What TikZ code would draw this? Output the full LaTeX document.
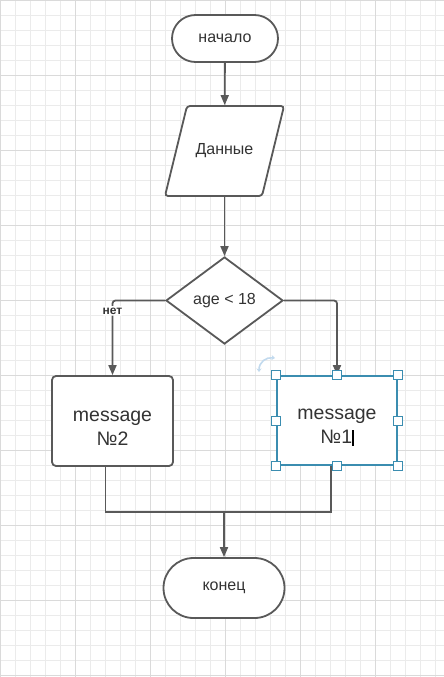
\documentclass[tikz,border=0pt]{standalone}
\usepackage{fontspec}
\setmainfont{Liberation Sans}
\usetikzlibrary{shapes.geometric, arrows.meta, positioning}
\definecolor{linegray}{HTML}{595959}
\definecolor{textgray}{HTML}{333333}
\definecolor{gridminor}{HTML}{EBEBEB}
\definecolor{gridmajor}{HTML}{DADADA}
\definecolor{selteal}{HTML}{3B8DB0}
\definecolor{rotblue}{HTML}{C2DAEE}

\tikzset{
	base/.style={draw=linegray, line width=1.8pt, fill=white, text=textgray,
		font=\fontsize{16}{19}\selectfont, align=center, inner sep=2pt},
	terminal/.style={base, rectangle, rounded corners=#1},
	process/.style={base, rectangle, rounded corners=4pt, minimum width=121pt,
		minimum height=90pt, font=\fontsize{19.5}{24}\selectfont},
	io/.style={base, draw=none, fill=none, rectangle, minimum width=97pt, minimum height=90pt},
	decision/.style={base, diamond, minimum width=117pt, minimum height=87pt, inner sep=0pt},
	line/.style={draw=linegray, line width=1.8pt},
	arrow/.style={line, -{Triangle[length=10pt, width=8pt]}},
	handle/.style={draw=selteal, line width=1pt, fill=white, minimum size=9pt, inner sep=0pt}
}
\newcommand{\topstrut}{\rule{0pt}{24pt}}

\begin{document}
\begin{tikzpicture}[x=1pt, y=-1pt]
		\useasboundingbox (0,0) rectangle (444,677);
		% background grid
		\fill[white] (0,0) rectangle (444,677);
		\foreach \i in {0,15,...,444} \draw[gridminor, line width=0.8pt] (\i,0) -- (\i,677);
		\foreach \j in {0,15,...,677} \draw[gridminor, line width=0.8pt] (0,\j) -- (444,\j);
		\foreach \i in {0,75,...,444} \draw[gridmajor, line width=0.8pt] (\i,0) -- (\i,677);
		\foreach \j in {0,75,...,677} \draw[gridmajor, line width=0.8pt] (0,\j) -- (444,\j);

		\node[terminal=23.5pt, minimum width=106pt, minimum height=47pt] (start) at (225,38.5) {начало};
		% parallelogram outline, text node on top
		\draw[line, fill=white, rounded corners=3pt] (187,106) -- (284,106) -- (262,196) -- (165,196) -- cycle;
		\node[io] (data) at (224.5,151) {Данные};
		\node[decision] (cond) at (224.5,300.5) {age < 18};
		\node[process] (msg2) at (112.5,421) {\topstrut message\\№2};
		\node[process, draw=selteal, rounded corners=0pt, minimum width=120pt, minimum height=89pt]
			(msg1) at (337,420.5) {\topstrut message\\№1\textcolor{black}{\rule[-2pt]{1.4pt}{16pt}}};
		\node[terminal=30pt, minimum width=121pt, minimum height=60pt] (finish) at (224,588) {конец};
		\coordinate (merge) at (224,512);

		\draw[arrow] (start) -- (data);
		\draw[arrow] (data) -- (cond);
		\draw[arrow, rounded corners=3pt] (cond.west) -| (msg2.north)
			node[pos=0.57, fill=white, text=textgray, inner sep=1.5pt,
			font=\fontsize{12}{14}\selectfont\bfseries] (no) {нет};
		\draw[arrow, rounded corners=3pt] (cond.east) -| (msg1.north);
		\draw[line] ([xshift=-7pt]msg2.south) |- (merge) -| ([xshift=-6pt]msg1.south);
		\draw[arrow] (merge) -- (finish);

		% selection handles
		\foreach \a/\n in {north west/1, north/2, north east/3, east/4,
			south east/5, south/6, south west/7, west/8}
			\node[handle] (h\n) at (msg1.\a) {};
		\draw[rotblue, line width=1.6pt, {Stealth[length=3.5pt, width=5pt]}-{Stealth[length=3.5pt, width=5pt]}]
			(259,372) .. controls (259,362) and (266,357) .. (275,358);
		\end{tikzpicture}
\end{document}
